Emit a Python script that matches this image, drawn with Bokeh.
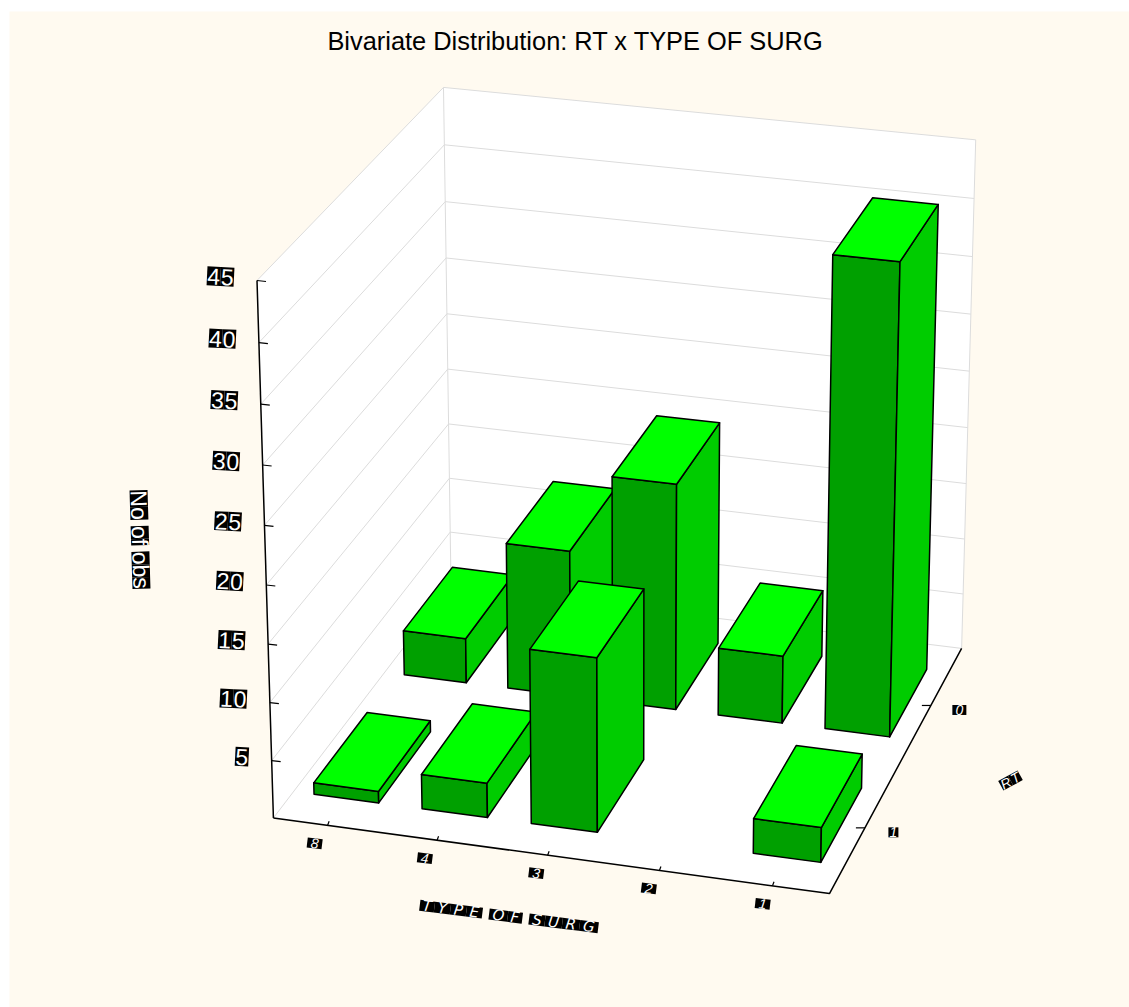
import numpy as np
from bokeh.core.properties import value
from bokeh.embed import file_html
from bokeh.models import Range1d
from bokeh.plotting import figure
from bokeh.resources import INLINE

W, H = 1129, 1007

# Frequency table
type_labels = ["8", "4", "3", "2", "1"]
rt_labels = ["1", "0"]
counts_rt1 = [1, 3, 15, 0, 3]
counts_rt0 = [4, 13, 20, 6, 41]
count_ticks = [5, 10, 15, 20, 25, 30, 35, 40, 45]
count_max = 45

title_text = "Bivariate Distribution: RT x TYPE OF SURG"
type_title = "TYPE OF SURG"
rt_title = "RT"
count_title = "No of obs"

# Camera calibration: cube points (u, v, w) and where they land on the page
cube = [(0, 0, 0), (1, 0, 0), (1, 1, 0), (0, 0, 1), (0, 1, 1), (1, 1, 1),
        (0, 1, 1 / 3), (0, 1, 2 / 9), (0, 1, 1 / 9)]
page = [(272.7, 817.5), (829, 893), (961, 648), (256.7, 280), (442.7, 87), (975.3, 139.3),
        (448, 423.3), (449, 477.7), (450, 531.7)]


def fit_camera(world, screen):
    rows, rhs = [], []
    for (a, b, c), (x, y) in zip(world, screen):
        rows.append([a, b, c, 1, 0, 0, 0, 0, -x * a, -x * b, -x * c])
        rhs.append(x)
        rows.append([0, 0, 0, 0, a, b, c, 1, -y * a, -y * b, -y * c])
        rhs.append(y)
    m = np.linalg.lstsq(np.array(rows, float), np.array(rhs, float), rcond=None)[0]
    return np.append(m, 1.0).reshape(3, 4)


CAM = fit_camera(cube, page)


def proj(u, v, w):
    q = CAM @ np.array([u, v, w, 1.0])
    return q[0] / q[2], q[1] / q[2]


def wv(c):
    return c / count_max


def poly(*pts):
    p2 = [proj(*q) for q in pts]
    return [a for a, _ in p2], [b for _, b in p2]


p = figure(width=W, height=H, output_backend="svg", toolbar_location=None,
           x_range=Range1d(0, W), y_range=Range1d(H, 0),
           min_border=0, outline_line_color=None, background_fill_color="white",
           border_fill_color="white")
p.axis.visible = False
p.xgrid.visible = False
p.ygrid.visible = False

# Page panel
p.patch([9, W, W, 9], [11, 11, H, H], fill_color="#FFFAF0", line_color=None)

# Walls and floor
WALL = "#DCDCDC"
for pts in [[(0, 0, 0), (0, 1, 0), (0, 1, 1), (0, 0, 1)],
            [(0, 1, 0), (1, 1, 0), (1, 1, 1), (0, 1, 1)],
            [(0, 0, 0), (1, 0, 0), (1, 1, 0), (0, 1, 0)]]:
    xs, ys = poly(*pts)
    p.patch(xs, ys, fill_color="white", line_color=None)

for c in count_ticks:
    xs, ys = poly((0, 0, wv(c)), (0, 1, wv(c)), (1, 1, wv(c)))
    p.line(xs, ys, line_color=WALL, line_width=1)
for seg in [[(0, 0, 0), (0, 1, 0), (1, 1, 0)], [(0, 1, 0), (0, 1, 1)], [(1, 1, 0), (1, 1, 1)]]:
    xs, ys = poly(*seg)
    p.line(xs, ys, line_color=WALL, line_width=1)

# Bars, painted from the back row forward and from left to right
BAR_U = 0.60
BAR_V = 0.58
BAR_SHIFT = -0.002
TOP, FRONT, SIDE = "#00FF00", "#00A000", "#00CC00"
fx, fy, fc = [], [], []
n_u, n_v = len(type_labels), len(rt_labels)
for j, row in [(1, counts_rt0), (0, counts_rt1)]:
    for i, c in enumerate(row):
        if c <= 0:
            continue
        u0 = (i + 0.5 - BAR_U / 2) / n_u + BAR_SHIFT
        u1 = (i + 0.5 + BAR_U / 2) / n_u + BAR_SHIFT
        v0, v1 = (j + 0.5 - BAR_V / 2) / n_v, (j + 0.5 + BAR_V / 2) / n_v
        h = wv(c)
        faces = [([(u0, v0, 0), (u1, v0, 0), (u1, v0, h), (u0, v0, h)], FRONT),
                 ([(u1, v0, 0), (u1, v1, 0), (u1, v1, h), (u1, v0, h)], SIDE),
                 ([(u0, v0, h), (u1, v0, h), (u1, v1, h), (u0, v1, h)], TOP)]
        for pts, col in faces:
            xs, ys = poly(*pts)
            fx.append(xs)
            fy.append(ys)
            fc.append(col)
p.patches(fx, fy, fill_color=fc, line_color="black", line_width=1.5, line_join="round")

# Axis lines and tick marks
for seg in [[(0, 0, 0), (0, 0, 1)], [(0, 0, 0), (1, 0, 0), (1, 1, 0)]]:
    xs, ys = poly(*seg)
    p.line(xs, ys, line_color="black", line_width=1.5)

sx, sy = [], []
for c in count_ticks:
    x, y = proj(0, 0, wv(c))
    sx.append([x, x + 9])
    sy.append([y, y + 1])
for i in range(n_u):
    x, y = proj((i + 0.5) / n_u, 0, 0)
    sx.append([x, x + 1.5])
    sy.append([y, y - 4])
for j in range(n_v):
    x, y = proj(1, (j + 0.5) / n_v, 0)
    sx.append([x, x - 9])
    sy.append([y, y])
p.multi_line(sx, sy, line_color="black", line_width=1.2)

# Helvetica-style advance widths, for laying out inverted glyph cells
ADV = {"T": .611, "Y": .667, "P": .667, "E": .667, " ": .278, "O": .778, "F": .611, "S": .667,
       "U": .722, "R": .722, "G": .778, "N": .722, "o": .556, "f": .278, "b": .556, "s": .5}


def inverted_text(text, cx, cy, size, box_h, font="Liberation Sans", style="normal",
                  slope=0.0, pitch=None, stretch=1.0):
    """White glyphs, each in its own black cell, centred on (cx, cy) along a direction."""
    adv = [(pitch if pitch else ADV.get(ch, .556) * size * stretch) for ch in text]
    total = sum(adv)
    dx, dy = np.cos(slope), np.sin(slope)
    nx, ny = -dy, dx
    pos = -total / 2
    bx, by, tx, ty, tt = [], [], [], [], []
    for ch, a in zip(text, adv):
        mid = pos + a / 2
        pos += a
        if ch == " ":
            continue
        mx, my = cx + mid * dx, cy + mid * dy
        corners = [(-a / 2, -box_h / 2), (a / 2, -box_h / 2), (a / 2, box_h / 2), (-a / 2, box_h / 2)]
        bx.append([mx + s * dx + t * nx for s, t in corners])
        by.append([my + s * dy + t * ny for s, t in corners])
        tx.append(mx)
        ty.append(my)
        tt.append(ch)
    p.patches(bx, by, fill_color="black", line_color=None)
    p.text(tx, ty, text=tt, text_color="white", text_font=value(font), text_font_style=style,
           text_font_size=f"{size}px", text_align="center", text_baseline="middle", angle=-slope)


# Count axis labels
for c in count_ticks:
    x, y = proj(0, 0, wv(c))
    s = str(c)
    inverted_text(s, x - 23 - 13.5 * len(s) / 2, y - 4, 23, 19, slope=0.05, pitch=13.5)

# Floor axis labels
for i, lab in enumerate(type_labels):
    x, y = proj((i + 0.5) / n_u, 0, 0)
    inverted_text(lab, x - 13 + 0.8 * i, y + 18, 14, 10, style="italic", slope=0.12, pitch=15)
for j, lab in enumerate(rt_labels):
    x, y = proj(1, (j + 0.5) / n_v, 0)
    inverted_text(lab, x + 28.5, y + 4.5, 14, 10, style="italic", pitch=10 if lab == "1" else 14)

# Axis titles
inverted_text(type_title, 508.5, 916, 15, 11, font="DejaVu Sans", style="italic", slope=0.125, stretch=1.61)
inverted_text(rt_title, 1010, 780, 14, 11, style="italic", slope=-0.5, pitch=11)
inverted_text(count_title, 139.5, 539, 23, 18, slope=np.pi / 2 - 0.03)

# Chart title
p.text([575], [40], text=[title_text], text_color="black", text_font=value("Liberation Sans"),
       text_font_size="25.4px", text_align="center", text_baseline="middle")

open("out.html", "w").write(file_html(p, INLINE))
